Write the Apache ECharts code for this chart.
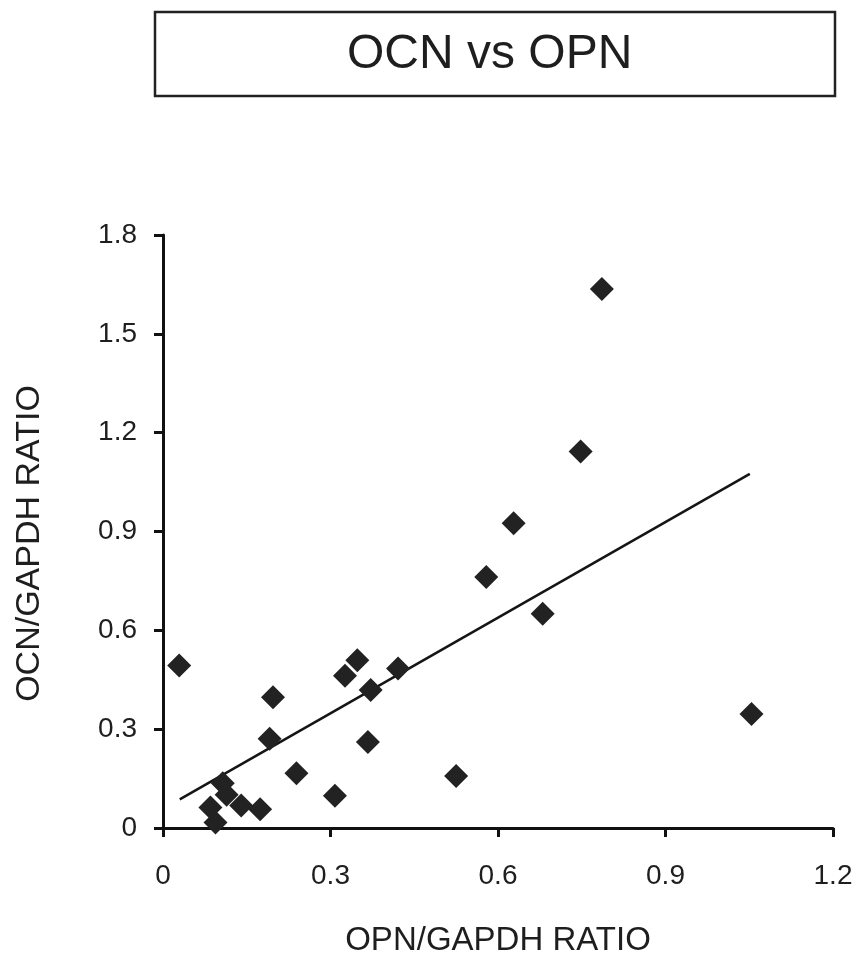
<!DOCTYPE html>
<html>
<head>
<meta charset="utf-8">
<script src="https://cdn.jsdelivr.net/npm/echarts@6/dist/echarts.min.js"></script>
<style>html,body{margin:0;padding:0;background:#fff;}#c{width:859px;height:962px;}</style>
</head>
<body>
<div id="c"></div>
<script>
var opnX = [0.029, 0.085, 0.094, 0.107, 0.114, 0.140, 0.174, 0.191, 0.197, 0.239, 0.308, 0.326, 0.348, 0.367, 0.372, 0.421, 0.525, 0.579, 0.628, 0.680, 0.748, 0.786, 1.054];
var ocnY = [0.493, 0.062, 0.017, 0.136, 0.101, 0.068, 0.057, 0.271, 0.397, 0.166, 0.098, 0.462, 0.509, 0.261, 0.419, 0.484, 0.158, 0.762, 0.925, 0.650, 1.143, 1.636, 0.346];
var trendX = [0.030, 1.051];
var trendY = [0.087, 1.075];
var xTicks = ['0', '0.3', '0.6', '0.9', '1.2'];
var yTicks = ['0', '0.3', '0.6', '0.9', '1.2', '1.5', '1.8'];
var titleText = 'OCN vs OPN';
var xName = 'OPN/GAPDH RATIO';
var yName = 'OCN/GAPDH RATIO';

var points = opnX.map(function (x, i) { return [x, ocnY[i]]; });
var trend = trendX.map(function (x, i) { return [x, trendY[i]]; });
var FONT = 'Liberation Sans';
var INK = '#1e1e1e';

var chart = echarts.init(document.getElementById('c'), null, {renderer: 'canvas'});
chart.setOption({
  backgroundColor: '#ffffff',
  animation: false,
  title: {
    text: titleText,
    left: 347, top: 31, padding: 0,
    textStyle: {fontFamily: FONT, fontSize: 48, fontWeight: 'normal', color: INK}
  },
  graphic: [{
    type: 'rect',
    shape: {x: 155, y: 12, width: 680, height: 84},
    style: {fill: 'none', stroke: '#222', lineWidth: 2.5}
  }],
  grid: {left: 163, right: 26, top: 235, bottom: 131, containLabel: false},
  xAxis: {
    type: 'value', min: 0, max: 1.2, interval: 0.3,
    name: xName, nameLocation: 'middle', nameGap: 96,
    nameTextStyle: {fontFamily: FONT, fontSize: 33, color: INK},
    axisLine: {show: true, onZero: false, lineStyle: {color: '#111', width: 3}},
    axisTick: {show: true, length: 9, lineStyle: {color: '#111', width: 3}},
    axisLabel: {margin: 34, fontFamily: FONT, fontSize: 28, color: INK,
      formatter: function (v, i) { return xTicks[i]; }},
    splitLine: {show: false}
  },
  yAxis: {
    type: 'value', min: 0, max: 1.8, interval: 0.3,
    name: yName, nameLocation: 'middle', nameGap: 116,
    nameTextStyle: {fontFamily: FONT, fontSize: 34, color: INK, padding: [0, 24, 0, 0]},
    axisLine: {show: true, onZero: false, lineStyle: {color: '#111', width: 3}},
    axisTick: {show: true, length: 9, lineStyle: {color: '#111', width: 3}},
    axisLabel: {margin: 26, fontFamily: FONT, fontSize: 28, color: INK,
      formatter: function (v, i) { return yTicks[i]; }},
    splitLine: {show: false}
  },
  series: [
    {
      type: 'line', data: trend, symbol: 'none', silent: true,
      lineStyle: {color: '#151515', width: 2.5}, z: 2
    },
    {
      type: 'scatter', data: points, symbol: 'diamond', symbolSize: 24,
      itemStyle: {color: '#222222', opacity: 1}, z: 3
    }
  ]
});
</script>
</body>
</html>
